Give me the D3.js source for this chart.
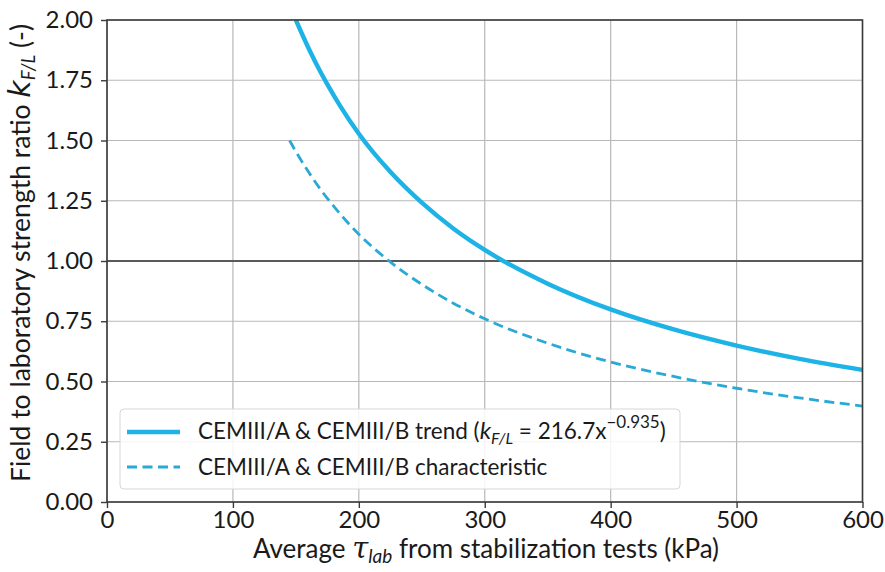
<!DOCTYPE html>
<html><head><meta charset="utf-8">
<script src="https://cdn.jsdelivr.net/npm/d3@7"></script>
<style>
body{margin:0;background:#fff;}
text{font-family:Lato,"Open Sans",sans-serif;fill:#1a1a1a;}
</style></head>
<body>
<svg id="chart" width="885" height="572"></svg>
<script>
// Data
const xTicks = [0, 100, 200, 300, 400, 500, 600];
const yTicks = [0, 0.25, 0.5, 0.75, 1.0, 1.25, 1.5, 1.75, 2.0];
const trendX = [150, 160, 170, 175, 185, 200, 225, 250, 275, 300, 350, 400, 450, 500, 550, 600];
const trendY = [2.00, 1.884, 1.780, 1.733, 1.645, 1.528, 1.370, 1.242, 1.135, 1.046, 0.906, 0.799, 0.716, 0.649, 0.594, 0.548];
const charX = [145, 150, 160, 170, 175, 185, 200, 225, 250, 275, 300, 350, 400, 450, 500, 550, 600];
const charY = [1.50, 1.454, 1.370, 1.294, 1.260, 1.196, 1.111, 0.996, 0.903, 0.825, 0.760, 0.659, 0.581, 0.521, 0.472, 0.432, 0.398];
const trendLabel = "CEMIII/A & CEMIII/B trend (";
const charLabel = "CEMIII/A & CEMIII/B characteristic";

const svg = d3.select("#chart");
const m = {left: 107, right: 862.5, top: 20, bottom: 502};
const x = d3.scaleLinear().domain([0, 600]).range([m.left, m.right]);
const y = d3.scaleLinear().domain([0, 2]).range([m.bottom, m.top]);

const trendColor = "#1db3e6";
const charColor = "#2aa9d6";

// grid
svg.append("g").selectAll("line.vg").data(xTicks).join("line")
  .attr("x1", d => x(d)).attr("x2", d => x(d))
  .attr("y1", m.top).attr("y2", m.bottom)
  .attr("stroke", "#b8b8b8").attr("stroke-width", 1.2);
svg.append("g").selectAll("line.hg").data(yTicks).join("line")
  .attr("x1", m.left).attr("x2", m.right)
  .attr("y1", d => y(d)).attr("y2", d => y(d))
  .attr("stroke", "#b8b8b8").attr("stroke-width", 1.2);

// y = 1 reference line
svg.append("line").attr("x1", m.left).attr("x2", m.right)
  .attr("y1", y(1)).attr("y2", y(1))
  .attr("stroke", "#5a5a5a").attr("stroke-width", 2);

// clip
svg.append("clipPath").attr("id", "clip").append("rect")
  .attr("x", m.left).attr("y", m.top)
  .attr("width", m.right - m.left).attr("height", m.bottom - m.top);

const line = d3.line().x(d => x(d[0])).y(d => y(d[1])).curve(d3.curveMonotoneX);

svg.append("path").datum(charX.map((v, i) => [v, charY[i]]))
  .attr("d", line).attr("fill", "none")
  .attr("stroke", charColor).attr("stroke-width", 2.8)
  .attr("stroke-dasharray", "10,5.5").attr("clip-path", "url(#clip)");

svg.append("path").datum(trendX.map((v, i) => [v, trendY[i]]))
  .attr("d", line).attr("fill", "none")
  .attr("stroke", trendColor).attr("stroke-width", 4.4)
  .attr("clip-path", "url(#clip)");

// spines
svg.append("rect").attr("x", m.left).attr("y", m.top)
  .attr("width", m.right - m.left).attr("height", m.bottom - m.top)
  .attr("fill", "none").attr("stroke", "#3a3a3a").attr("stroke-width", 1.6);

// axes
const xAxis = svg.append("g").attr("transform", `translate(0,${m.bottom})`)
  .call(d3.axisBottom(x).tickValues(xTicks).tickFormat(d3.format("d")).tickSize(6).tickPadding(3));
const yAxis = svg.append("g").attr("transform", `translate(${m.left},0)`)
  .call(d3.axisLeft(y).tickValues(yTicks).tickFormat(d3.format(".2f")).tickSize(6).tickPadding(8));
[xAxis, yAxis].forEach(g => {
  g.select(".domain").remove();
  g.selectAll(".tick line").attr("stroke", "#3a3a3a").attr("stroke-width", 1.4);
  g.selectAll(".tick text").attr("font-size", 24).attr("font-family", "Lato, sans-serif").attr("fill", "#1a1a1a");
});

// x label
const xl = svg.append("text").attr("x", 486).attr("y", 558)
  .attr("text-anchor", "middle").style("font-size", "26px");
xl.append("tspan").text("Average ");
xl.append("tspan").attr("font-style", "italic").attr("font-family", "DejaVu Serif, serif").style("font-size", "29px").text("τ");
xl.append("tspan").attr("font-style", "italic").style("font-size", "19px").attr("dy", 5).text("lab");
xl.append("tspan").attr("dy", -5).text(" from stabilization tests (kPa)");

// y label
const yl = svg.append("text").attr("transform", "translate(30,253) rotate(-90)")
  .attr("text-anchor", "middle").style("font-size", "26.5px");
yl.append("tspan").text("Field to laboratory strength ratio ");
yl.append("tspan").attr("font-style", "italic").attr("font-family", "DejaVu Sans, sans-serif").style("font-size", "30px").text("k");
yl.append("tspan").attr("font-style", "italic").style("font-size", "18.5px").attr("dy", 5).text("F/L");
yl.append("tspan").attr("dy", -5).text(" (-)");

// legend
const lg = svg.append("g");
lg.append("rect").attr("x", 120).attr("y", 409).attr("width", 560).attr("height", 80)
  .attr("rx", 4).attr("fill", "#ffffff").attr("fill-opacity", 0.85)
  .attr("stroke", "#d6d6d6").attr("stroke-width", 1);
lg.append("line").attr("x1", 127).attr("x2", 180).attr("y1", 432).attr("y2", 432)
  .attr("stroke", trendColor).attr("stroke-width", 4.4);
lg.append("line").attr("x1", 127).attr("x2", 180).attr("y1", 467).attr("y2", 467)
  .attr("stroke", charColor).attr("stroke-width", 2.8).attr("stroke-dasharray", "10,5.5");
const t1 = lg.append("text").attr("x", 198).attr("y", 439).style("font-size", "22.5px");
t1.append("tspan").text(trendLabel);
t1.append("tspan").attr("font-style", "italic").style("font-size", "24px").text("k");
t1.append("tspan").attr("font-style", "italic").style("font-size", "16px").attr("dy", 5).text("F/L");
t1.append("tspan").attr("dy", -5).text(" = 216.7x");
t1.append("tspan").style("font-size", "17px").attr("dy", -11).text("−0.935");
t1.append("tspan").attr("dy", 11).text(")");
lg.append("text").attr("x", 198).attr("y", 475).style("font-size", "22.5px").text(charLabel);
</script>
</body></html>
